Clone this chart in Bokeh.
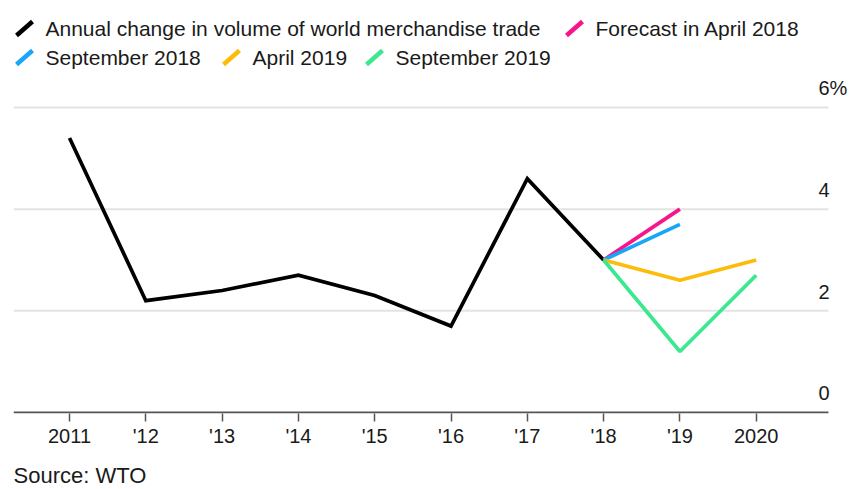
from bokeh.plotting import figure
from bokeh.layouts import column
from bokeh.models import Range1d, FixedTicker, Label
from bokeh.core.properties import value
from bokeh.embed import file_html
from bokeh.resources import INLINE

# ---------------- data ----------------
years = [2011, 2012, 2013, 2014, 2015, 2016, 2017, 2018]
actual = [5.4, 2.2, 2.4, 2.7, 2.3, 1.7, 4.6, 3.0]

fc_apr2018_years = [2018, 2019]
fc_apr2018 = [3.0, 4.0]
fc_sep2018_years = [2018, 2019]
fc_sep2018 = [3.0, 3.7]
fc_apr2019_years = [2018, 2019, 2020]
fc_apr2019 = [3.0, 2.6, 3.0]
fc_sep2019_years = [2018, 2019, 2020]
fc_sep2019 = [3.0, 1.2, 2.7]

x_ticks = [2011, 2012, 2013, 2014, 2015, 2016, 2017, 2018, 2019, 2020]
x_tick_labels = ["2011", "'12", "'13", "'14", "'15", "'16", "'17", "'18", "'19", "2020"]
y_ticks = [0, 2, 4, 6]
y_tick_labels = ["0", "2", "4", "6%"]

series_names = ["Annual change in volume of world merchandise trade", "Forecast in April 2018",
                "September 2018", "April 2019", "September 2019"]
colors = ["#000000", "#f7158c", "#19a6f5", "#fdbb0a", "#3ce88f"]

source_text = "Source: WTO"
FONT = "Liberation Sans"
TXT = "#1a1a1a"

W = 853
BL, BR = 13, 0          # shared left/right borders (frames are aligned in the column)

# ---------------- legend figure ----------------
LH = 72
leg = figure(width=W, height=LH, x_range=Range1d(BL, W - BR), y_range=Range1d(LH, 0),
             toolbar_location=None, output_backend="svg",
             min_border_left=BL, min_border_right=BR, min_border_top=0, min_border_bottom=0)
leg.axis.visible = False
leg.grid.visible = False
leg.outline_line_color = None

# (text x, row y) positions for each legend entry, in pixels
leg_pos = [(45, 28), (595, 28), (45, 57), (252, 57), (395, 57)]
for (tx, ly), name, c in zip(leg_pos, series_names, colors):
    mx = tx - 29
    leg.segment(x0=[mx], y0=[ly + 7], x1=[mx + 16], y1=[ly - 7], line_color=c,
                line_width=4.5, line_cap="butt")
    leg.text(x=[tx], y=[ly], text=[name], text_font=value(FONT),
             text_font_size="21px", text_color=TXT, text_baseline="middle",
             text_align="left")

# ---------------- main figure ----------------
X0, GRID_END, X1 = 2010.266, 2020.947, 2021.275
p = figure(width=W, height=8 + 333 + 47,
           x_range=Range1d(X0, X1), y_range=Range1d(-0.0197, 6.531),
           toolbar_location=None, output_backend="svg",
           y_axis_location=None,
           min_border_left=BL, min_border_right=BR, min_border_top=8, min_border_bottom=47)
p.outline_line_color = None
p.grid.visible = False

# horizontal gridlines (light) and zero baseline (dark), ending before the labels' margin
grid_vals = y_ticks[1:]
p.segment(x0=[X0] * len(grid_vals), y0=grid_vals, x1=[GRID_END] * len(grid_vals), y1=grid_vals,
          line_color="#e3e3e3", line_width=2)
p.segment(x0=[X0], y0=[y_ticks[0]], x1=[GRID_END], y1=[y_ticks[0]],
          line_color="#555555", line_width=2)

xa = p.xaxis[0]
xa.ticker = FixedTicker(ticks=x_ticks)
xa.major_label_overrides = {t: l for t, l in zip(x_ticks, x_tick_labels)}
xa.axis_line_color = None
xa.major_tick_line_color = "#555555"
xa.major_tick_line_width = 1.5
xa.major_tick_in = 0
xa.major_tick_out = 8
xa.minor_tick_line_color = None
xa.major_label_text_font = FONT
xa.major_label_text_font_size = "20px"
xa.major_label_text_color = TXT
xa.major_label_standoff = 3

p.line(years, actual, line_color=colors[0], line_width=3.7, line_join="miter")
p.line(fc_apr2018_years, fc_apr2018, line_color=colors[1], line_width=3.7)
p.line(fc_sep2018_years, fc_sep2018, line_color=colors[2], line_width=3.7)
p.line(fc_apr2019_years, fc_apr2019, line_color=colors[3], line_width=3.7)
p.line(fc_sep2019_years, fc_sep2019, line_color=colors[4], line_width=3.7)

for yv, yl in zip(y_ticks, y_tick_labels):
    p.add_layout(Label(x=GRID_END, y=yv, text=yl, x_offset=-10, y_offset=19,
                       text_font=FONT, text_font_size="20px", text_color=TXT,
                       text_baseline="middle", text_align="left"))

# ---------------- source figure ----------------
SH = 29
src = figure(width=W, height=SH, x_range=Range1d(BL, W - BR), y_range=Range1d(SH, 0),
             toolbar_location=None, output_backend="svg",
             min_border_left=BL, min_border_right=BR, min_border_top=0, min_border_bottom=0)
src.axis.visible = False
src.grid.visible = False
src.outline_line_color = None
src.text(x=[13], y=[15], text=[source_text], text_font=value(FONT), text_font_size="22px",
         text_color=TXT, text_baseline="middle", text_align="left")

layout = column(leg, p, src, spacing=0)
open("out.html", "w").write(file_html(layout, INLINE))
